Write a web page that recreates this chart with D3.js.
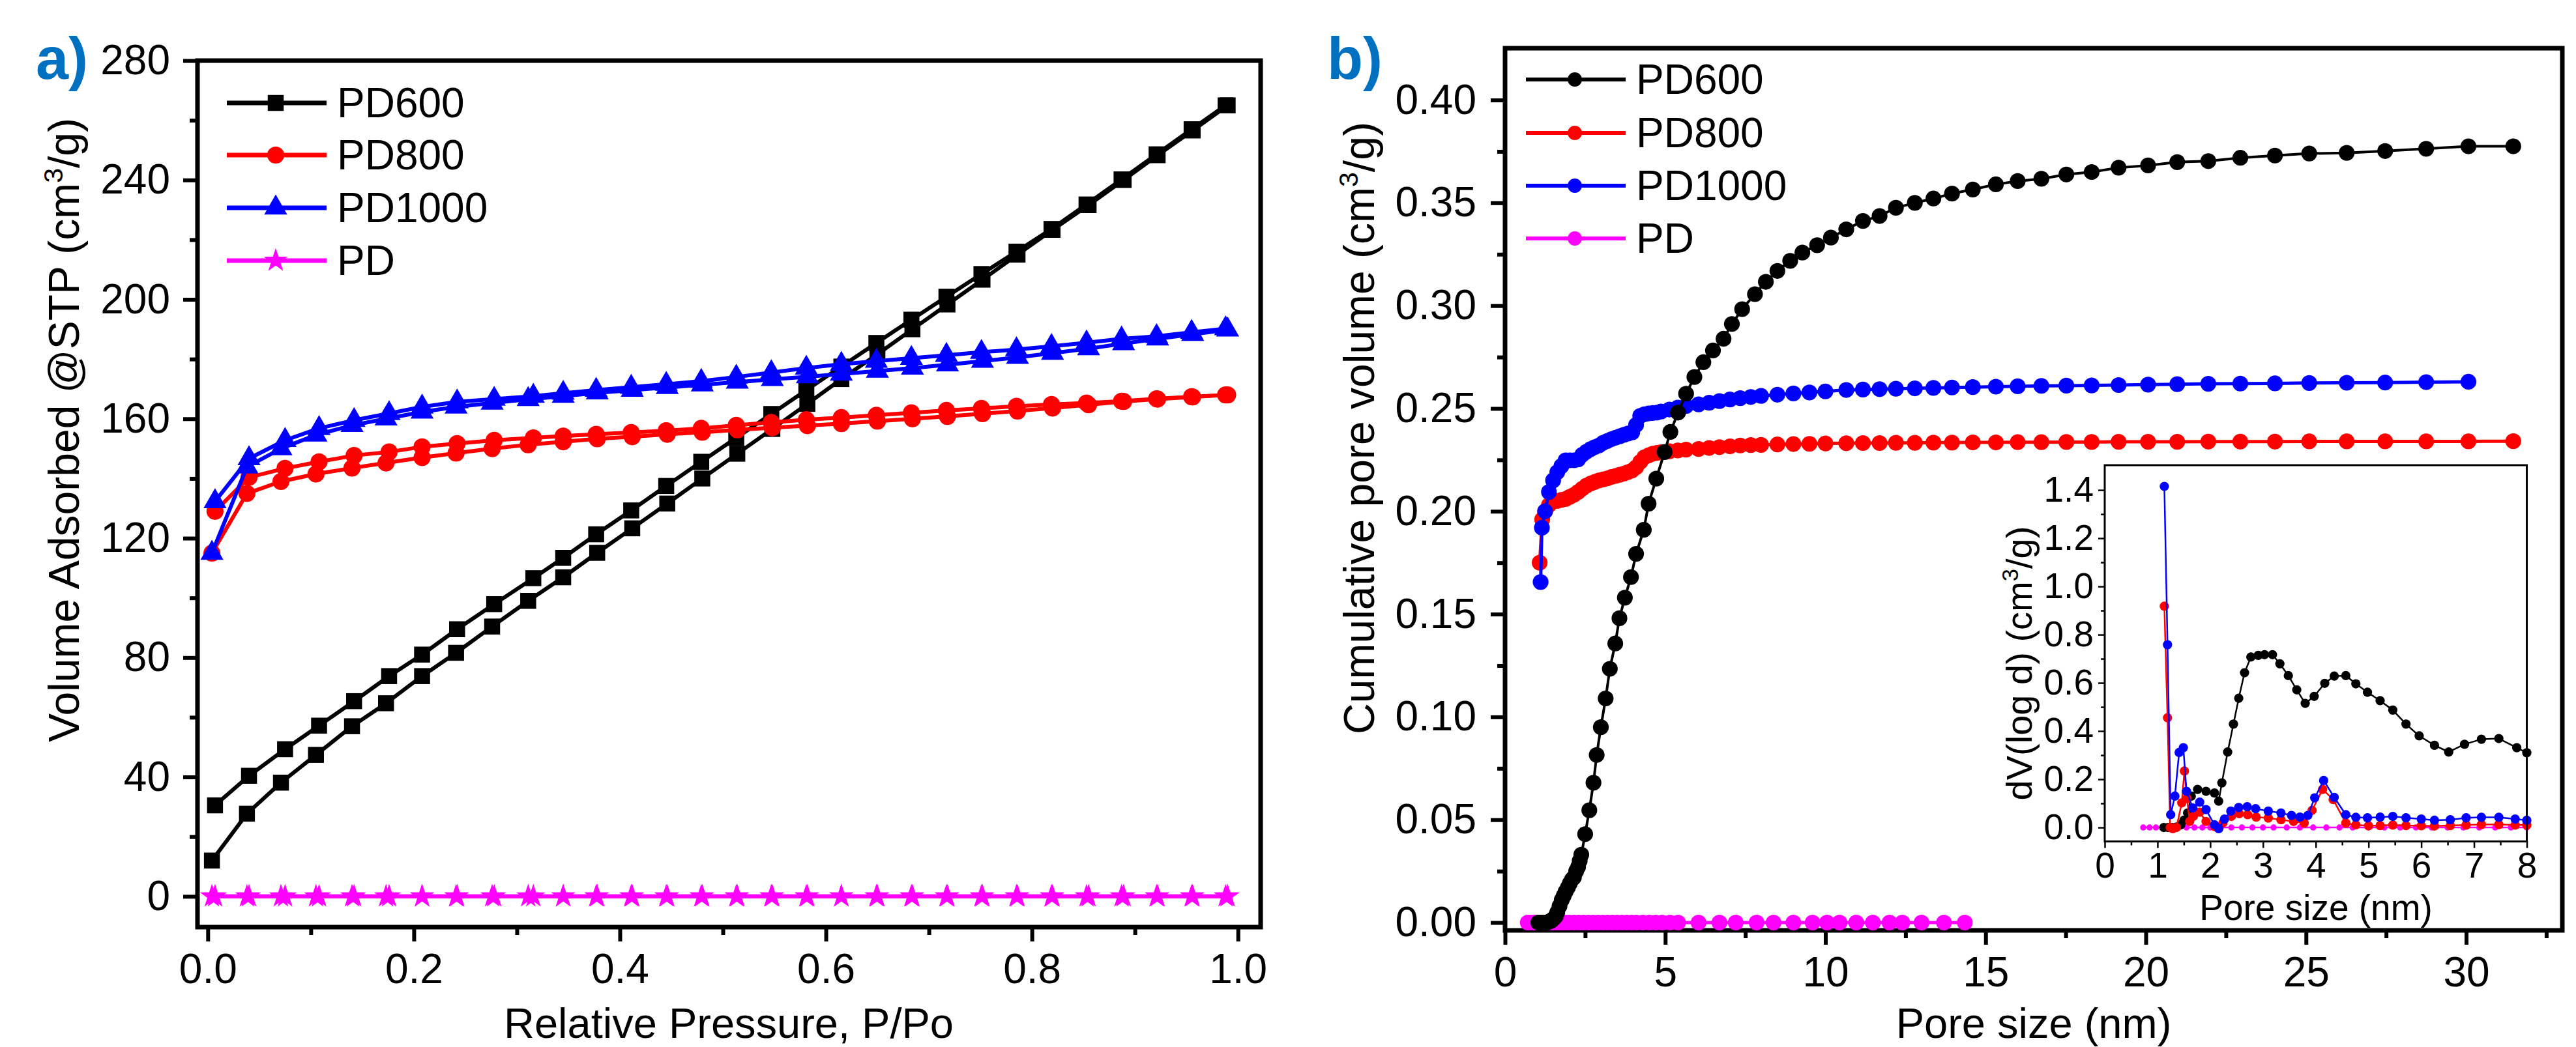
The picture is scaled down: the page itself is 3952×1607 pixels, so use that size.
<!DOCTYPE html>
<html>
<head>
<meta charset="utf-8">
<script src="https://d3js.org/d3.v7.min.js"></script>
<style>
  body { margin: 0; background: #fff; }
  svg { display: block; font-family: "Liberation Sans", Arial, sans-serif; }
</style>
</head>
<body>
<div id="chart"></div>
<script>
// ---- panel a: N2 isotherms (relative pressure vs volume adsorbed) ----
const pressureAds = [0.004, 0.038, 0.071, 0.105, 0.140, 0.173, 0.208, 0.241, 0.276, 0.311, 0.345, 0.378, 0.412, 0.446, 0.480,
  0.514, 0.548, 0.582, 0.615, 0.650, 0.684, 0.718, 0.752, 0.786, 0.820, 0.855, 0.889, 0.922, 0.956, 0.990];
const pressureDes = [0.007, 0.040, 0.075, 0.108, 0.142, 0.176, 0.208, 0.242, 0.278, 0.316, 0.345, 0.377, 0.411, 0.445, 0.479,
  0.513, 0.547, 0.581, 0.615, 0.649, 0.683, 0.717, 0.751, 0.785, 0.819, 0.853, 0.887, 0.921, 0.955, 0.988];

const pd600Ads = [12.0, 27.7, 38.1, 47.4, 57.0, 64.7, 73.8, 81.6, 90.4, 99.0, 106.9, 115.1, 123.3, 131.6, 140.0,
  148.3, 156.6, 165.0, 173.3, 181.6, 190.0, 198.3, 206.6, 215.0, 223.3, 231.6, 240.0, 248.3, 256.6, 265.0];
const pd600Des = [30.5, 40.4, 49.3, 57.2, 65.4, 73.8, 81.0, 89.5, 97.9, 106.6, 113.4, 121.3, 129.3, 137.5, 145.6,
  153.6, 161.6, 169.6, 177.5, 185.4, 193.2, 200.9, 208.5, 216.0, 223.6, 231.8, 240.2, 248.6, 257.0, 265.0];
const pd800Ads = [115, 135, 139, 141.5, 143.5, 145.2, 147, 148.5, 150, 151.3, 152.3, 153.3, 154, 154.8, 155.5,
  156.3, 157, 157.7, 158.4, 159.2, 160, 160.8, 161.7, 162.6, 163.6, 164.7, 165.8, 166.6, 167.3, 168];
const pd800Des = [129, 140.4, 143.4, 145.6, 147.7, 148.9, 150.6, 151.7, 152.8, 153.6, 154.2, 154.8, 155.4, 156, 156.8,
  157.8, 158.8, 159.7, 160.4, 161.2, 162, 162.8, 163.5, 164.2, 164.8, 165.3, 165.9, 166.7, 167.4, 168];
const pd1000Ads = [115, 143.9, 150, 154.6, 157.8, 160, 162.3, 164, 165.3, 166.5, 167.6, 168.7, 169.6, 170.5, 171.4,
  172.3, 173.2, 174.1, 175, 176, 177, 178.1, 179.3, 180.6, 182, 183.5, 185.2, 186.8, 188.3, 189.8];
const pd1000Des = [132.3, 146.7, 152.8, 156.8, 159.5, 161.8, 164, 165.7, 166.6, 167.6, 168.6, 169.6, 170.6, 171.6, 172.6,
  174, 175.5, 177, 178.3, 179.3, 180.3, 181.3, 182.3, 183.2, 184.3, 185.5, 186.8, 187.6, 189, 190.2];
const pdAds = [0, 0, 0, 0, 0, 0, 0, 0, 0, 0, 0, 0, 0, 0, 0, 0, 0, 0, 0, 0, 0, 0, 0, 0, 0, 0, 0, 0, 0, 0];
const pdDes = [0, 0, 0, 0, 0, 0, 0, 0, 0, 0, 0, 0, 0, 0, 0, 0, 0, 0, 0, 0, 0, 0, 0, 0, 0, 0, 0, 0, 0, 0];

// ---- panel b: cumulative pore volume vs pore size (nm) ----
const pd600Size = [1.04, 1.10, 1.17, 1.24, 1.31, 1.38, 1.45, 1.52, 1.58, 1.63, 1.70, 1.77, 1.83, 1.89, 1.96, 2.02, 2.09,
  2.15, 2.22, 2.28, 2.33, 2.38, 2.50, 2.63, 2.76, 2.86, 2.99, 3.14, 3.27, 3.44, 3.57, 3.74, 3.93, 4.09, 4.33, 4.48, 4.72,
  4.98, 5.16, 5.40, 5.65, 5.91, 6.19, 6.49, 6.82, 7.08, 7.40, 7.80, 8.14, 8.50, 8.90, 9.28, 9.74, 10.17, 10.65, 11.17,
  11.69, 12.20, 12.79, 13.37, 13.95, 14.60, 15.32, 16.00, 16.74, 17.52, 18.31, 19.15, 20.07, 20.98, 21.95, 22.95, 24.03,
  25.10, 26.27, 27.47, 28.75, 30.07, 31.47];
const pd600Cum = [0, 0, 0, 0, 0, 0.0005, 0.001, 0.002, 0.003, 0.005, 0.008, 0.011, 0.013, 0.015, 0.017, 0.019, 0.021,
  0.022, 0.025, 0.027, 0.030, 0.033, 0.043, 0.0546, 0.068, 0.0815, 0.095, 0.109, 0.1234, 0.1357, 0.148, 0.158, 0.168,
  0.1793, 0.191, 0.2037, 0.2159, 0.2288, 0.2386, 0.248, 0.2572, 0.2653, 0.2725, 0.2782, 0.2839, 0.2911, 0.2983, 0.3056,
  0.3116, 0.3169, 0.3218, 0.3258, 0.3294, 0.3331, 0.3371, 0.3412, 0.3436, 0.3476, 0.350, 0.3521, 0.3545, 0.3565, 0.359,
  0.3606, 0.3617, 0.3638, 0.365, 0.3671, 0.3682, 0.3698, 0.3703, 0.3719, 0.373, 0.374, 0.3743, 0.3752, 0.3763, 0.3775,
  0.3775];
const pd800Size = [1.08, 1.16, 1.25, 1.37, 1.50, 1.62, 1.75, 1.89, 2.02, 2.15, 2.28, 2.41, 2.54, 2.67, 2.79, 2.93, 3.06,
  3.19, 3.32, 3.45, 3.58, 3.70, 3.83, 3.96, 4.09, 4.22, 4.35, 4.48, 4.61, 4.74, 4.87, 5.13, 5.39, 5.65, 6.04, 6.37, 6.69,
  7.02, 7.34, 7.67, 7.99, 8.50, 9.00, 9.50, 10.00, 10.65, 11.17, 11.69, 12.20, 12.79, 13.37, 13.95, 14.60, 15.32, 16.00,
  16.74, 17.52, 18.31, 19.15, 20.07, 20.98, 21.95, 22.95, 24.03, 25.10, 26.27, 27.47, 28.75, 30.07, 31.47];
const pd800Cum = [0.175, 0.196, 0.200, 0.203, 0.205, 0.205, 0.2055, 0.206, 0.207, 0.208, 0.2094, 0.211, 0.2125, 0.2135,
  0.2142, 0.215, 0.2155, 0.216, 0.2167, 0.2172, 0.2178, 0.2183, 0.219, 0.2198, 0.2214, 0.224, 0.2263, 0.2272, 0.228,
  0.2284, 0.2287, 0.2292, 0.2296, 0.230, 0.2303, 0.2308, 0.2312, 0.2316, 0.232, 0.2322, 0.2323, 0.2325, 0.2327, 0.2328,
  0.233, 0.2331, 0.2332, 0.2332, 0.2333, 0.2333, 0.2334, 0.2334, 0.2335, 0.2335, 0.2336, 0.2336, 0.2337, 0.2337, 0.2338,
  0.2338, 0.2338, 0.2339, 0.2339, 0.2339, 0.234, 0.234, 0.234, 0.234, 0.234, 0.2341];
const pd1000Size = [1.11, 1.15, 1.25, 1.37, 1.50, 1.63, 1.76, 1.89, 2.02, 2.15, 2.28, 2.41, 2.54, 2.67, 2.80, 2.93, 3.06,
  3.19, 3.32, 3.45, 3.58, 3.71, 3.84, 3.97, 4.09, 4.22, 4.35, 4.48, 4.61, 4.74, 4.87, 5.13, 5.39, 5.65, 6.04, 6.37, 6.69,
  7.02, 7.34, 7.67, 7.99, 8.50, 9.00, 9.50, 10.00, 10.65, 11.17, 11.69, 12.20, 12.79, 13.37, 13.95, 14.60, 15.32, 16.00,
  16.74, 17.52, 18.31, 19.15, 20.07, 20.98, 21.95, 22.95, 24.03, 25.10, 26.27, 27.47, 28.75, 30.07];
const pd1000Cum = [0.1656, 0.192, 0.200, 0.2094, 0.215, 0.219, 0.222, 0.2248, 0.2248, 0.2248, 0.2252, 0.2275, 0.229,
  0.2302, 0.2312, 0.232, 0.2333, 0.2342, 0.2351, 0.2358, 0.2365, 0.2372, 0.2378, 0.2384, 0.242, 0.2464, 0.2472, 0.2476,
  0.2478, 0.248, 0.2485, 0.2495, 0.2504, 0.2512, 0.252, 0.2528, 0.2536, 0.2544, 0.255, 0.2556, 0.2561, 0.2567, 0.2573,
  0.2578, 0.2583, 0.259, 0.2592, 0.2594, 0.2596, 0.2598, 0.260, 0.2602, 0.2604, 0.2606, 0.2608, 0.261, 0.2611, 0.2612,
  0.2614, 0.2616, 0.2618, 0.262, 0.2621, 0.2622, 0.2624, 0.2625, 0.2626, 0.2628, 0.263];
const pdSize = [0.71, 0.80, 0.90, 1.00, 1.10, 1.20, 1.30, 1.40, 1.50, 1.60, 1.70, 1.80, 1.90, 2.00, 2.15, 2.30, 2.45,
  2.60, 2.75, 2.90, 3.05, 3.20, 3.35, 3.50, 3.65, 3.80, 3.95, 4.10, 4.30, 4.50, 4.70, 4.90, 5.15, 5.40, 6.04, 6.69, 7.20,
  7.85, 8.38, 9.00, 9.60, 10.05, 10.44, 10.96, 11.48, 12.00, 12.40, 13.00, 13.70, 14.35];
const pdCum = [0, 0, 0, 0, 0, 0, 0, 0, 0, 0, 0, 0, 0, 0, 0, 0, 0, 0, 0, 0, 0, 0, 0, 0, 0, 0, 0, 0, 0, 0, 0, 0, 0, 0, 0,
  0, 0, 0, 0, 0, 0, 0, 0, 0, 0, 0, 0, 0, 0, 0];

// ---- inset: dV(log d) vs pore size ----
const psdPd600Size = [1.12, 1.20, 1.28, 1.36, 1.44, 1.50, 1.57, 1.64, 1.76, 1.92, 2.08, 2.16, 2.22, 2.33, 2.44, 2.54,
  2.65, 2.77, 2.91, 3.03, 3.18, 3.32, 3.48, 3.64, 3.80, 3.97, 4.17, 4.35, 4.57, 4.76, 4.98, 5.22, 5.46, 5.71, 5.96, 6.25,
  6.52, 6.82, 7.14, 7.47, 7.81, 8.00];
const psdPd600 = [0, 0, 0, 0.002, 0.011, 0.03, 0.06, 0.13, 0.158, 0.15, 0.143, 0.109, 0.185, 0.313, 0.429, 0.536, 0.642,
  0.707, 0.714, 0.717, 0.717, 0.679, 0.63, 0.571, 0.515, 0.544, 0.598, 0.628, 0.63, 0.596, 0.561, 0.526, 0.487, 0.429,
  0.38, 0.341, 0.313, 0.345, 0.366, 0.369, 0.331, 0.31];
const psdPd800Size = [1.13, 1.19, 1.24, 1.29, 1.36, 1.46, 1.51, 1.56, 1.61, 1.68, 1.80, 1.92, 2.08, 2.24, 2.40, 2.55,
  2.71, 2.87, 3.10, 3.34, 3.58, 3.78, 3.93, 4.13, 4.33, 4.57, 4.76, 5.00, 5.22, 5.46, 5.71, 6.00, 6.25, 6.55, 6.85, 7.14,
  7.47, 7.78, 8.00];
const psdPd800 = [0.918, 0.455, 0.0, -0.005, 0.0, 0.102, 0.234, 0.12, 0.025, 0.046, 0.063, 0.025, 0.004, 0.019, 0.046,
  0.057, 0.053, 0.043, 0.039, 0.032, 0.025, 0.018, 0.071, 0.158, 0.116, 0.018, 0.011, 0.007, 0.008, 0.01, 0.008, 0.007,
  0.006, 0.008, 0.01, 0.012, 0.012, 0.01, 0.01];
const psdPd1000Size = [1.13, 1.19, 1.25, 1.33, 1.41, 1.49, 1.55, 1.67, 1.80, 1.92, 2.08, 2.16, 2.27, 2.39, 2.54, 2.70,
  2.86, 3.10, 3.34, 3.54, 3.70, 3.85, 3.98, 4.15, 4.35, 4.57, 4.76, 4.98, 5.22, 5.46, 5.71, 6.00, 6.25, 6.55, 6.85, 7.14,
  7.47, 7.78, 8.00];
const psdPd1000 = [1.415, 0.758, 0.053, 0.13, 0.311, 0.331, 0.15, 0.081, 0.105, 0.074, 0.011, -0.005, 0.035, 0.068,
  0.083, 0.086, 0.078, 0.068, 0.06, 0.05, 0.043, 0.05, 0.123, 0.195, 0.125, 0.053, 0.042, 0.04, 0.043, 0.046, 0.04, 0.035,
  0.03, 0.032, 0.04, 0.042, 0.042, 0.035, 0.03];
const psdPdSize = [0.73, 0.85, 0.97, 1.10, 1.25, 1.40, 1.55, 1.70, 1.85, 2.00, 2.20, 2.40, 2.60, 2.80, 3.00, 3.20, 3.45,
  3.70, 3.95, 4.20, 4.45, 4.70, 5.00, 5.30, 5.60, 5.90, 6.20, 6.50, 6.80, 7.10, 7.40, 7.70, 8.00];
const psdPd = [0, 0, 0, 0, 0, 0, 0, 0, 0, 0, 0, 0, 0, 0, 0, 0, 0, 0, 0, 0, 0, 0, 0, 0, 0, 0, 0, 0, 0, 0, 0, 0, 0];

const seriesNames = ["PD600", "PD800", "PD1000", "PD"];
const seriesColors = ["#000000", "#ff0000", "#0000ff", "#ff00ff"];

const W = 3952, H = 1607;
const FONT = '"Liberation Sans", Arial, sans-serif';

const svg = d3.select("#chart").append("svg")
  .attr("width", W).attr("height", H)
  .attr("font-family", FONT);

svg.append("rect").attr("width", W).attr("height", H).attr("fill", "#fff");

// draw one connected series with markers
function drawSeries(g, xs, ys, x, y, color, symType, symSize, lineW) {
  const pts = d3.zip(xs, ys);
  g.append("path")
    .datum(pts)
    .attr("fill", "none")
    .attr("stroke", color)
    .attr("stroke-width", lineW)
    .attr("stroke-linejoin", "round")
    .attr("d", d3.line().x(d => x(d[0])).y(d => y(d[1])));
  g.append("g").selectAll("path")
    .data(pts)
    .enter().append("path")
    .attr("transform", d => `translate(${x(d[0])},${y(d[1])})`)
    .attr("d", d3.symbol().type(symType).size(symSize))
    .attr("fill", color);
}

function styleAxis(sel, fs, sw) {
  sel.attr("font-size", null).attr("font-family", null);
  sel.select(".domain").remove();
  sel.selectAll(".tick line").attr("stroke", "#000").attr("stroke-width", sw);
  sel.selectAll(".tick text").attr("fill", "#000").attr("font-size", fs);
}

function drawAxes(g, x, y, c) {
  const bottom = y.range()[0], left = x.range()[0];
  g.append("g").attr("transform", `translate(0,${bottom})`)
    .call(d3.axisBottom(x).tickValues(c.xMinor).tickFormat("").tickSize(c.minorLen).tickSizeOuter(0))
    .call(s => styleAxis(s, c.fs, c.sw));
  g.append("g").attr("transform", `translate(${left},0)`)
    .call(d3.axisLeft(y).tickValues(c.yMinor).tickFormat("").tickSize(c.minorLen).tickSizeOuter(0))
    .call(s => styleAxis(s, c.fs, c.sw));
  g.append("g").attr("transform", `translate(0,${bottom})`)
    .call(d3.axisBottom(x).tickValues(c.xMajor).tickFormat(c.xFmt).tickSize(c.tickLen).tickSizeOuter(0).tickPadding(c.padX))
    .call(s => styleAxis(s, c.fs, c.sw));
  g.append("g").attr("transform", `translate(${left},0)`)
    .call(d3.axisLeft(y).tickValues(c.yMajor).tickFormat(c.yFmt).tickSize(c.tickLen).tickSizeOuter(0).tickPadding(c.padY))
    .call(s => styleAxis(s, c.fs, c.sw));
  const [x0, x1] = x.range(), [y0, y1] = y.range();
  g.append("rect")
    .attr("x", x0).attr("y", y1).attr("width", x1 - x0).attr("height", y0 - y1)
    .attr("fill", "none").attr("stroke", "#000").attr("stroke-width", c.frameW);
}

// text with cm^3/g superscript
function titleWithUnit(sel, before, after, fs) {
  sel.append("tspan").text(before + "(cm");
  sel.append("tspan").text("3").attr("font-size", fs * 0.62).attr("dy", -fs * 0.38);
  sel.append("tspan").text("/g)" + after).attr("dy", fs * 0.38);
}

function drawLegend(g, x0, rows, symbols, sizes, lineW, fs) {
  seriesNames.forEach((name, i) => {
    const yy = rows[i];
    g.append("line").attr("x1", x0).attr("x2", x0 + 153).attr("y1", yy).attr("y2", yy)
      .attr("stroke", seriesColors[i]).attr("stroke-width", lineW);
    g.append("path").attr("transform", `translate(${x0 + 75},${yy})`)
      .attr("d", d3.symbol().type(symbols[i]).size(sizes[i])).attr("fill", seriesColors[i]);
    g.append("text").attr("x", x0 + 169).attr("y", yy + fs * 0.35).attr("font-size", fs).text(name);
  });
}

// ================= panel a =================
const xA = d3.scaleLinear().domain([-0.01, 1.022]).range([303, 1934]);
const yA = d3.scaleLinear().domain([-10.3, 280]).range([1423, 93]);
const gA = svg.append("g");

drawAxes(gA, xA, yA, {
  xMajor: [0, 0.2, 0.4, 0.6, 0.8, 1.0], xMinor: [0.1, 0.3, 0.5, 0.7, 0.9], xFmt: d3.format(".1f"),
  yMajor: [0, 40, 80, 120, 160, 200, 240, 280], yMinor: [20, 60, 100, 140, 180, 220, 260], yFmt: d3.format("d"),
  tickLen: 22, minorLen: 12, sw: 6, frameW: 7, fs: 64, padX: 19, padY: 20
});

const markA = [d3.symbolSquare, d3.symbolCircle, d3.symbolTriangle, d3.symbolStar];
const sizeA = [600, 540, 540, 420];
drawSeries(gA, pressureAds, pd600Ads, xA, yA, seriesColors[0], markA[0], sizeA[0], 6);
drawSeries(gA, pressureDes, pd600Des, xA, yA, seriesColors[0], markA[0], sizeA[0], 6);
drawSeries(gA, pressureAds, pd800Ads, xA, yA, seriesColors[1], markA[1], sizeA[1], 6);
drawSeries(gA, pressureDes, pd800Des, xA, yA, seriesColors[1], markA[1], sizeA[1], 6);
drawSeries(gA, pressureAds, pd1000Ads, xA, yA, seriesColors[2], markA[2], sizeA[2], 6);
drawSeries(gA, pressureDes, pd1000Des, xA, yA, seriesColors[2], markA[2], sizeA[2], 6);
drawSeries(gA, pressureAds, pdAds, xA, yA, seriesColors[3], markA[3], sizeA[3], 6);
drawSeries(gA, pressureDes, pdDes, xA, yA, seriesColors[3], markA[3], sizeA[3], 6);

drawLegend(gA, 348, [158, 238, 319, 400], markA, sizeA, 7, 64);

gA.append("text").attr("x", 1118).attr("y", 1593).attr("text-anchor", "middle").attr("font-size", 65)
  .text("Relative Pressure, P/Po");
gA.append("text").attr("transform", "translate(121,660) rotate(-90)").attr("text-anchor", "middle")
  .attr("font-size", 66).call(s => titleWithUnit(s, "Volume Adsorbed @STP ", "", 66));
gA.append("text").attr("x", 55).attr("y", 121).attr("font-size", 90).attr("font-weight", "bold")
  .attr("fill", "#0070c0").text("a)");

// ================= panel b =================
const xB = d3.scaleLinear().domain([0, 33]).range([2309, 3931]);
const yB = d3.scaleLinear().domain([-0.0038, 0.4252]).range([1428, 74]);
const gB = svg.append("g");

drawAxes(gB, xB, yB, {
  xMajor: [0, 5, 10, 15, 20, 25, 30], xMinor: [2.5, 7.5, 12.5, 17.5, 22.5, 27.5, 32.5], xFmt: d3.format("d"),
  yMajor: [0, 0.05, 0.10, 0.15, 0.20, 0.25, 0.30, 0.35, 0.40],
  yMinor: [0.025, 0.075, 0.125, 0.175, 0.225, 0.275, 0.325, 0.375], yFmt: d3.format(".2f"),
  tickLen: 22, minorLen: 12, sw: 6, frameW: 7, fs: 64, padX: 19, padY: 22
});

const markB = [d3.symbolCircle, d3.symbolCircle, d3.symbolCircle, d3.symbolCircle];
const sizeB = [460, 460, 460, 460];
drawSeries(gB, pdSize, pdCum, xB, yB, seriesColors[3], markB[3], sizeB[3], 5);
drawSeries(gB, pd800Size, pd800Cum, xB, yB, seriesColors[1], markB[1], sizeB[1], 5);
drawSeries(gB, pd1000Size, pd1000Cum, xB, yB, seriesColors[2], markB[2], sizeB[2], 5);
drawSeries(gB, pd600Size, pd600Cum, xB, yB, seriesColors[0], markB[0], sizeB[0], 4);

drawLegend(gB, 2341, [122, 204, 285, 366], markB, [380, 380, 380, 380], 6, 64);

gB.append("text").attr("x", 3120).attr("y", 1593).attr("text-anchor", "middle").attr("font-size", 65)
  .text("Pore size (nm)");
gB.append("text").attr("transform", "translate(2108,657) rotate(-90)").attr("text-anchor", "middle")
  .attr("font-size", 66).call(s => titleWithUnit(s, "Cumulative pore volume ", "", 66));
gB.append("text").attr("x", 2036).attr("y", 121).attr("font-size", 90).attr("font-weight", "bold")
  .attr("fill", "#0070c0").text("b)");

// ================= inset =================
const xI = d3.scaleLinear().domain([0, 8]).range([3229, 3876.5]);
const yI = d3.scaleLinear().domain([-0.058, 1.503]).range([1291.5, 714]);
const gI = svg.append("g");
gI.append("rect").attr("x", 3229).attr("y", 714).attr("width", 647.5).attr("height", 577.5).attr("fill", "#fff");

drawSeries(gI, psdPdSize, psdPd, xI, yI, seriesColors[3], d3.symbolCircle, 70, 2.5);
drawSeries(gI, psdPd600Size, psdPd600, xI, yI, seriesColors[0], d3.symbolCircle, 160, 2.5);
drawSeries(gI, psdPd800Size, psdPd800, xI, yI, seriesColors[1], d3.symbolCircle, 160, 2.5);
drawSeries(gI, psdPd1000Size, psdPd1000, xI, yI, seriesColors[2], d3.symbolCircle, 160, 2.5);

drawAxes(gI, xI, yI, {
  xMajor: [0, 1, 2, 3, 4, 5, 6, 7, 8], xMinor: [0.5, 1.5, 2.5, 3.5, 4.5, 5.5, 6.5, 7.5], xFmt: d3.format("d"),
  yMajor: [0, 0.2, 0.4, 0.6, 0.8, 1.0, 1.2, 1.4], yMinor: [0.1, 0.3, 0.5, 0.7, 0.9, 1.1, 1.3], yFmt: d3.format(".1f"),
  tickLen: 10, minorLen: 6, sw: 2.5, frameW: 3, fs: 55, padX: 6, padY: 7
});

gI.append("text").attr("x", 3553).attr("y", 1412).attr("text-anchor", "middle").attr("font-size", 55)
  .text("Pore size (nm)");
gI.append("text").attr("transform", "translate(3117,1018) rotate(-90)").attr("text-anchor", "middle")
  .attr("font-size", 56).call(s => titleWithUnit(s, "dV(log d) ", "", 56));
</script>
</body>
</html>
